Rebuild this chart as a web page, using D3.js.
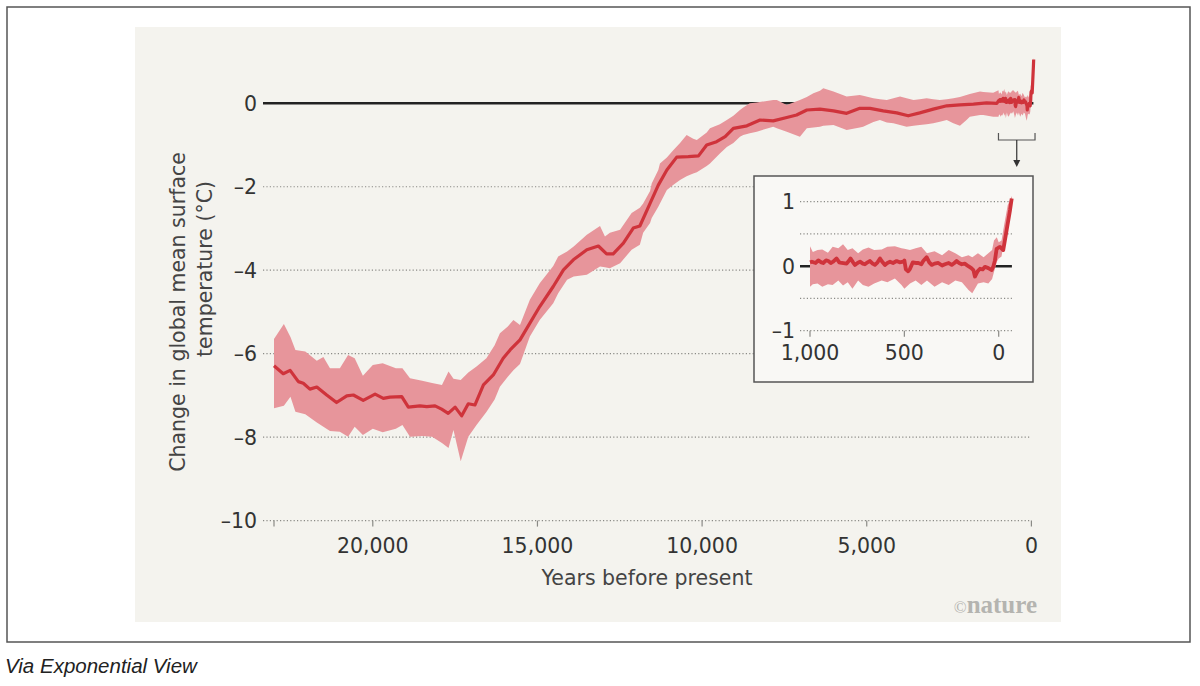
<!DOCTYPE html>
<html>
<head>
<meta charset="utf-8">
<script src="https://cdn.jsdelivr.net/npm/d3@7"></script>
<style>
  html, body { margin: 0; padding: 0; background: #fff; }
  svg { display: block; }
  .tick-label { font-family: "DejaVu Sans", sans-serif; font-size: 20.5px; fill: #333; }
  .axis-title { font-family: "DejaVu Sans", sans-serif; font-size: 20.5px; fill: #444; }
</style>
</head>
<body>
<div id="chart"></div>
<script>
// Global mean surface temperature change over the last ~23,000 years,
// with an inset zooming into the last millennium.

// Long record: years before present and mean change (°C)
const mainYears = [23000, 22720, 22510, 22260, 22110, 21910, 21700, 21400, 21100, 20790,
  20590, 20290, 19930, 19680, 19480, 19120, 18920, 18570, 18360, 18110,
  17910, 17710, 17500, 17300, 17100, 16900, 16640, 16340, 16040, 15830,
  15530, 14930, 14520, 14210, 13910, 13500, 13150, 12900, 12700, 12390,
  12090, 11890, 11580, 11330, 11070, 10770, 10420, 10110, 9860, 9560,
  9300, 9050, 8640, 8240, 7840, 7430, 7130, 6820, 6420, 6010,
  5610, 5210, 4900, 4500, 4090, 3740, 3390, 2980, 2570, 2170,
  1760, 1360, 1050];
const mainTemps = [-6.29, -6.48, -6.40, -6.67, -6.71, -6.85, -6.80, -6.99, -7.17, -7.01,
  -6.99, -7.12, -6.97, -7.07, -7.04, -7.03, -7.28, -7.25, -7.27, -7.25,
  -7.33, -7.43, -7.28, -7.49, -7.20, -7.23, -6.75, -6.51, -6.11, -5.91,
  -5.67, -4.87, -4.39, -3.99, -3.75, -3.51, -3.42, -3.61, -3.61, -3.35,
  -2.99, -2.94, -2.40, -1.96, -1.60, -1.29, -1.28, -1.26, -1.00, -0.92,
  -0.80, -0.60, -0.54, -0.40, -0.42, -0.34, -0.28, -0.16, -0.14, -0.18,
  -0.24, -0.12, -0.12, -0.18, -0.23, -0.30, -0.23, -0.14, -0.06, -0.04,
  -0.02, 0.01, 0.00];

// Long record uncertainty band
const mainBandYears = [23000, 22700, 22500, 22350, 22050, 21700, 21500, 21300, 21000, 20750,
  20550, 20300, 20000, 19700, 19300, 19100, 18870, 18500, 18200, 17900,
  17700, 17550, 17330, 17100, 16850, 16550, 16300, 16140, 15900, 15730,
  15530, 15230, 14930, 14520, 14370, 14100, 13900, 13500, 13100, 12950,
  12800, 12490, 12140, 11890, 11790, 11580, 11530, 11330, 11280, 11070,
  10870, 10670, 10470, 10270, 10160, 9860, 9760, 9460, 9250, 9050,
  8850, 8750, 8550, 8340, 7840, 7730, 7430, 7030, 6820, 6620,
  6420, 6320, 6010, 5610, 5210, 5110, 4800, 4600, 4390, 4190,
  3990, 3790, 3580, 3390, 3180, 2980, 2780, 2570, 2370, 2170,
  1970, 1870, 1560, 1460, 1160];
const mainBandLow = [-7.31, -7.25, -7.03, -7.39, -7.45, -7.65, -7.75, -7.85, -7.87, -7.99,
  -7.75, -7.95, -7.80, -7.88, -7.80, -7.71, -7.99, -7.97, -7.99, -8.14,
  -8.26, -7.83, -8.58, -7.99, -7.71, -7.40, -7.10, -6.79, -6.55, -6.40,
  -6.25, -5.59, -5.19, -4.79, -4.55, -4.23, -4.15, -4.11, -3.91, -3.93,
  -3.95, -3.83, -3.51, -3.39, -3.10, -2.87, -2.75, -2.48, -2.40, -2.08,
  -1.95, -1.84, -1.75, -1.68, -1.65, -1.50, -1.44, -1.20, -1.05, -0.95,
  -0.80, -0.76, -0.72, -0.68, -0.56, -0.60, -0.68, -0.80, -0.60, -0.58,
  -0.56, -0.54, -0.52, -0.64, -0.58, -0.56, -0.45, -0.40, -0.46, -0.48,
  -0.52, -0.56, -0.54, -0.52, -0.50, -0.48, -0.44, -0.40, -0.48, -0.54,
  -0.40, -0.32, -0.28, -0.28, -0.32];
const mainBandHigh = [-5.65, -5.29, -5.60, -5.91, -5.95, -6.17, -6.08, -6.35, -6.35, -6.03,
  -6.11, -6.53, -6.27, -6.23, -6.35, -6.35, -6.59, -6.65, -6.70, -6.75,
  -6.43, -6.60, -6.63, -6.45, -6.31, -6.11, -5.80, -5.51, -5.35, -5.19,
  -5.31, -4.71, -4.31, -3.90, -3.67, -3.55, -3.43, -3.15, -2.94, -3.19,
  -3.10, -3.03, -2.63, -2.50, -2.40, -2.10, -1.92, -1.60, -1.44, -1.30,
  -1.12, -0.95, -0.76, -0.85, -0.88, -0.70, -0.60, -0.50, -0.40, -0.30,
  -0.16, -0.10, 0.00, 0.02, 0.08, 0.08, -0.04, 0.08, 0.15, 0.24,
  0.30, 0.36, 0.28, 0.16, 0.20, 0.18, 0.12, 0.10, 0.08, 0.12,
  0.16, 0.12, 0.08, 0.10, 0.12, 0.10, 0.08, 0.10, 0.12, 0.15,
  0.20, 0.22, 0.28, 0.27, 0.25];

// Last millennium (inset): years before present (negative = after 1950)
const insetYears = [1000, 990, 970, 956, 940, 930, 915, 903, 890, 877,
  859, 845, 832, 806, 795, 785, 772, 762, 748, 735,
  720, 709, 695, 682, 668, 656, 642, 629, 615, 603,
  590, 576, 560, 541, 525, 506, 500, 492, 480, 470,
  455, 440, 426, 410, 400, 382, 368, 355, 340, 320,
  300, 285, 265, 249, 235, 223, 210, 196, 180, 161,
  145, 134, 126, 112, 99, 85, 73, 55, 37, 28,
  20, 11, 0, -7, -24, -42, -60, -69];
const insetTemps = [0.06, 0.07, 0.05, 0.09, 0.06, 0.05, 0.09, 0.08, 0.05, 0.07,
  0.12, 0.06, 0.05, 0.04, 0.08, 0.12, 0.06, 0.02, 0.05, 0.07,
  0.04, 0.03, 0.06, 0.08, 0.04, 0.02, 0.06, 0.12, 0.06, 0.02,
  0.05, 0.07, 0.05, 0.08, 0.06, 0.07, 0.09, -0.05, -0.08, -0.04,
  0.06, 0.05, 0.05, 0.03, 0.08, 0.14, 0.06, 0.02, 0.04, 0.05,
  0.01, 0.03, 0.05, 0.02, 0.05, 0.08, 0.05, 0.03, 0.04, 0.00,
  -0.03, -0.06, -0.16, -0.08, -0.04, -0.05, -0.01, -0.03, -0.06, 0.00,
  0.09, 0.27, 0.29, 0.30, 0.25, 0.56, 0.87, 1.05];

const insetBandYears = [1000, 985, 960, 935, 905, 880, 850, 825, 800, 775,
  745, 720, 690, 660, 620, 590, 550, 515, 500, 470,
  440, 410, 380, 340, 300, 265, 230, 195, 160, 140,
  110, 80, 55, 35, 25, 10, 0, -15, -30, -48, -70];
const insetBandLow = [-0.32, -0.28, -0.27, -0.32, -0.28, -0.29, -0.22, -0.30, -0.25, -0.35,
  -0.22, -0.29, -0.32, -0.27, -0.22, -0.25, -0.19, -0.29, -0.35, -0.27,
  -0.22, -0.29, -0.22, -0.32, -0.25, -0.29, -0.22, -0.25, -0.37, -0.42,
  -0.27, -0.25, -0.27, -0.20, -0.09, 0.07, 0.12, 0.15, 0.43, 0.79, 1.00];
const insetBandHigh = [0.31, 0.22, 0.25, 0.26, 0.21, 0.30, 0.28, 0.34, 0.25, 0.28,
  0.20, 0.26, 0.29, 0.25, 0.26, 0.30, 0.31, 0.28, 0.27, 0.25,
  0.28, 0.30, 0.20, 0.23, 0.17, 0.25, 0.20, 0.14, 0.17, 0.14,
  0.20, 0.14, 0.20, 0.25, 0.40, 0.45, 0.37, 0.40, 0.66, 0.95, 1.09];

// Axes
const yTicks = [0, -2, -4, -6, -8, -10];
const xTicks = [23000, 20000, 15000, 10000, 5000, 0];
const xTickLabels = ['', '20,000', '15,000', '10,000', '5,000', '0'];
const insetGrid = [1, 0.5, -0.5, -1];
const insetYTicks = [1, 0, -1];
const insetXTicks = [1000, 500, 0];

const W = 1200, H = 686;
const RED = '#cf333b', BAND = '#e7959b', BG = '#f4f3ee';

const svg = d3.select('#chart').append('svg')
  .attr('width', W).attr('height', H)
  .attr('viewBox', `0 0 ${W} ${H}`);

// Outer frame and beige panel
svg.append('rect').attr('x', 7).attr('y', 7).attr('width', 1183).attr('height', 635)
  .attr('fill', '#fff').attr('stroke', '#555').attr('stroke-width', 1.5);
svg.append('rect').attr('x', 135).attr('y', 27).attr('width', 926).attr('height', 595)
  .attr('fill', BG);

svg.append('text')
  .attr('x', 5).attr('y', 673)
  .attr('font-family', '"Liberation Sans", Arial, sans-serif')
  .attr('font-style', 'italic').attr('font-size', 20.5).attr('fill', '#222')
  .text('Via Exponential View');

// ---- Main chart ----
const x = d3.scaleLinear().domain([23000, 0]).range([274, 1031.4]);
const y = d3.scaleLinear().domain([0, -10]).range([103.3, 520.6]);
const gridX0 = x(23000) - 11;

const g = svg.append('g');

g.append('g').selectAll('line')
  .data(yTicks.filter((d) => d !== 0))
  .join('line')
  .attr('x1', gridX0).attr('x2', x(0))
  .attr('y1', (d) => y(d)).attr('y2', (d) => y(d))
  .attr('stroke', '#8a8a86').attr('stroke-width', 1.2)
  .attr('stroke-dasharray', '1.2 2.2');

g.append('g').selectAll('text')
  .data(yTicks)
  .join('text')
  .attr('class', 'tick-label')
  .attr('x', 257).attr('y', (d) => y(d) + 7.5)
  .attr('text-anchor', 'end')
  .text((d) => (d < 0 ? '\u2013' + Math.abs(d) : d));

// x ticks
g.append('g').selectAll('line')
  .data(xTicks)
  .join('line')
  .attr('x1', (d) => x(d)).attr('x2', (d) => x(d))
  .attr('y1', y(-10)).attr('y2', y(-10) + 6)
  .attr('stroke', '#8a8a86').attr('stroke-width', 1.2);

g.append('g').selectAll('text')
  .data(xTicks)
  .join('text')
  .attr('class', 'tick-label')
  .attr('x', (d) => x(d)).attr('y', 553)
  .attr('text-anchor', 'middle')
  .text((d, i) => xTickLabels[i]);

g.append('text').attr('class', 'axis-title')
  .attr('x', 647).attr('y', 585).attr('text-anchor', 'middle')
  .text('Years before present');

g.append('text').attr('class', 'axis-title')
  .attr('transform', 'translate(185,312) rotate(-90)')
  .attr('text-anchor', 'middle')
  .text('Change in global mean surface');
g.append('text').attr('class', 'axis-title')
  .attr('transform', 'translate(212,269) rotate(-90)')
  .attr('text-anchor', 'middle')
  .text('temperature (°C)');

// zero line
g.append('line')
  .attr('x1', gridX0).attr('x2', x(0) + 2)
  .attr('y1', y(0)).attr('y2', y(0))
  .attr('stroke', '#222').attr('stroke-width', 2.5);

const mainBand = mainBandYears.map((yr, i) => [yr, mainBandLow[i], mainBandHigh[i]])
  .concat(insetBandYears.map((yr, i) => [yr, insetBandLow[i], insetBandHigh[i]]));
const mainLine = mainYears.map((yr, i) => [yr, mainTemps[i]])
  .concat(insetYears.map((yr, i) => [yr, insetTemps[i]]));

g.append('path')
  .datum(mainBand)
  .attr('fill', BAND)
  .attr('d', d3.area().x((d) => x(d[0])).y0((d) => y(d[1])).y1((d) => y(d[2])));

g.append('path')
  .datum(mainLine)
  .attr('fill', 'none').attr('stroke', RED).attr('stroke-width', 3.2)
  .attr('stroke-linejoin', 'round')
  .attr('d', d3.line().x((d) => x(d[0])).y((d) => y(d[1])));

// bracket + arrow pointing to inset
const bx0 = x(1000), bx1 = x(-110), by = 140;
g.append('path')
  .attr('d', `M${bx0},${by - 7}V${by}H${bx1}V${by - 7}`)
  .attr('fill', 'none').attr('stroke', '#555').attr('stroke-width', 1.2);
const ax = (bx0 + bx1) / 2;
g.append('line')
  .attr('x1', ax).attr('x2', ax).attr('y1', by).attr('y2', 162)
  .attr('stroke', '#333').attr('stroke-width', 1.2);
g.append('path')
  .attr('d', `M${ax - 3.5},160L${ax + 3.5},160L${ax},167Z`)
  .attr('fill', '#333');

// ---- Inset ----
const ix = d3.scaleLinear().domain([1000, 0]).range([810, 998.7]);
const iy = d3.scaleLinear().domain([-1, 1]).range([330.7, 201.7]);
const inset = svg.append('g');

inset.append('rect')
  .attr('x', 754).attr('y', 176).attr('width', 279).attr('height', 206)
  .attr('fill', '#f9f8f5').attr('stroke', '#555').attr('stroke-width', 1.5);

inset.append('g').selectAll('line')
  .data(insetGrid)
  .join('line')
  .attr('x1', 800).attr('x2', ix(-70))
  .attr('y1', (d) => iy(d)).attr('y2', (d) => iy(d))
  .attr('stroke', '#8a8a86').attr('stroke-width', 1.2)
  .attr('stroke-dasharray', '1.2 2.2');

inset.append('line')
  .attr('x1', 800).attr('x2', ix(-70))
  .attr('y1', iy(0)).attr('y2', iy(0))
  .attr('stroke', '#222').attr('stroke-width', 2.5);

inset.append('g').selectAll('text')
  .data(insetYTicks)
  .join('text')
  .attr('class', 'tick-label')
  .attr('x', 795).attr('y', (d) => iy(d) + 7.5)
  .attr('text-anchor', 'end')
  .text((d) => (d < 0 ? '\u2013' + Math.abs(d) : d));

inset.append('g').selectAll('line')
  .data(insetXTicks)
  .join('line')
  .attr('x1', (d) => ix(d)).attr('x2', (d) => ix(d))
  .attr('y1', iy(-1)).attr('y2', iy(-1) + 6)
  .attr('stroke', '#8a8a86').attr('stroke-width', 1.2);

inset.append('g').selectAll('text')
  .data(insetXTicks)
  .join('text')
  .attr('class', 'tick-label')
  .attr('x', (d) => ix(d)).attr('y', 360)
  .attr('text-anchor', 'middle')
  .text((d) => d3.format(',')(d));

inset.append('path')
  .datum(insetBandYears.map((yr, i) => [yr, insetBandLow[i], insetBandHigh[i]]))
  .attr('fill', BAND)
  .attr('d', d3.area().x((d) => ix(d[0])).y0((d) => iy(d[1])).y1((d) => iy(d[2])));

inset.append('path')
  .datum(insetYears.map((yr, i) => [yr, insetTemps[i]]))
  .attr('fill', 'none').attr('stroke', RED).attr('stroke-width', 3.8)
  .attr('stroke-linejoin', 'round')
  .attr('d', d3.line().x((d) => ix(d[0])).y((d) => iy(d[1])));

// ©nature mark
const mark = svg.append('text')
  .attr('x', 1037).attr('y', 613).attr('text-anchor', 'end')
  .attr('font-family', '"Liberation Serif", "Times New Roman", serif')
  .attr('font-weight', 'bold').attr('fill', '#b4b4b0');
mark.append('tspan').attr('font-size', 17).attr('font-weight', 'normal').text('©');
mark.append('tspan').attr('font-size', 25).text('nature');
</script>
</body>
</html>
